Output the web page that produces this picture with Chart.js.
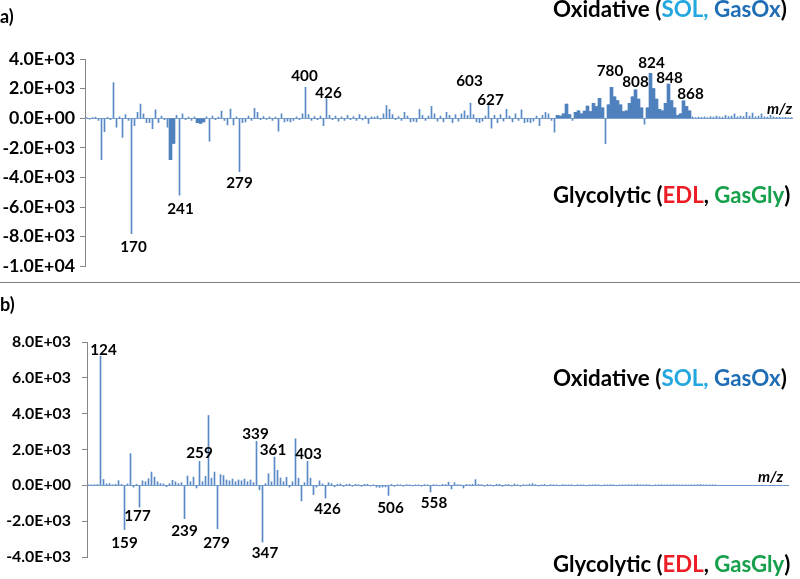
<!DOCTYPE html>
<html><head><meta charset="utf-8">
<script src="https://cdn.jsdelivr.net/npm/chart.js@4.4.1/dist/chart.umd.min.js"></script>
<style>
html,body{margin:0;padding:0;background:#fff;width:800px;height:579px;overflow:hidden}
#wrap{position:relative;width:800px;height:579px;background:#fff}
#ca{position:absolute;left:0;top:0}
#cb{position:absolute;left:0;top:283px}
#sep{position:absolute;left:0;top:282px;width:800px;height:1px;background:#7f7f7f}
</style></head><body>
<div id="wrap">
<canvas id="ca" width="800" height="282"></canvas>
<div id="sep"></div>
<canvas id="cb" width="800" height="296"></canvas>
</div>
<script>
// ---------------- DATA ----------------
// Panel a) : intensity per m/z bar (positive = Oxidative, negative = Glycolytic)
const valuesA = [
  40, -60, 50, 80, -150, -2800, -900, 60, -100, 2400,
  -600, 100, -1300, 250, -150, -7800, -500, 400, 950, 300,
  -300, -300, -700, 560, -300, 150, -100, -600, -2800, -1700,
  200, -5200, 300, -100, 80, -150, 100, -300, -350, -250,
  100, -1550, 150, -100, 80, 490, -150, -450, 620, -450,
  100, -3600, -300, -250, 150, -150, 670, 400, -100, 120,
  -80, 100, -150, 80, -870, 290, -250, -200, -250, -150,
  100, -100, 300, 2080, 250, -150, 120, -100, 150, -500,
  1330, 200, -100, 150, -200, 100, -150, 200, -100, 120,
  -150, 250, -120, 150, -350, 100, 80, 150, -60, 300,
  850, 600, 250, -100, 120, -150, 400, 150, -250, -200,
  -250, 600, 200, -150, 150, 800, 300, -200, 150, -250,
  400, 200, -300, 250, -200, 300, 500, 200, 1030, 250,
  -250, -300, -200, 150, 980, -670, 200, -300, 250, -200,
  600, 150, -250, 300, -150, 560, -300, -250, -300, -200,
  150, -500, 200, 400, 300, -150, -940, 200, 150, 300,
  960, 250, -150, 400, 500, 300, 480, 820, 450, 1000,
  780, 1340, 700, -1720, 900, 2080, 1440, 1200, 900, 450,
  500, 1000, 1450, 1920, 1300, 700, -400, 700, 3040, 2000,
  1300, 600, 500, 1000, 2300, 1200, 700, 200, 300, 1180,
  800, 500, 100, 50, 80, 60, 100, 50, 120, 80,
  150, 100, 80, 200, 120, 150, 300, 100, 150, 120,
  400, 150, 350, 100, 150, 300, 100, 80, 200, 100,
  60, 80, 50, 60, 40, 50
];
const peakMzA  = ['170','241','279','400','426','603','627','780','808','824','848','868'];
const peakIdxA = [15, 31, 51, 73, 80, 128, 134, 175, 183, 188, 194, 199];
const yTicksA  = [-10000, -8000, -6000, -4000, -2000, 0, 2000, 4000];

// Panel b)
const valuesB = [
  30, 20, 40, 50, 7210, 330, 80, 100, 30, 60,
  260, 50, -2470, 80, 1770, -100, 60, -1210, 250, 200,
  370, 740, 460, 200, 100, 80, -80, 100, 280, 200,
  100, 150, -1860, 520, 200, 460, -150, 1340, 200, 500,
  3900, 400, 740, -2420, 600, 550, 300, 250, 350, 200,
  300, 250, 350, 200, 300, 150, 2460, -250, -3160, 100,
  650, 200, 1580, 840, 410, 200, 450, -100, 200, 2600,
  400, -870, 150, 1340, 400, -520, -100, 250, 80, -710,
  150, 100, -80, 60, 80, -60, 50, 70, -50, 60,
  40, -60, 50, 60, -40, 30, -100, -120, -100, -80,
  -560, 50, -60, 40, 30, -50, 40, 30, -40, 30,
  20, -50, 40, 30, -370, 40, 30, -30, 50, 40,
  180, -200, 150, 40, 30, -150, 50, 40, 60, 320,
  60, 40, -50, 50, 30, -40, 60, 50, -60, 40,
  50, -40, 70, 30, -50, 40, 30, 50, 100, 40,
  -40, 30, 50, -30, 40, 30, 20, -30, 40, 30,
  20, 40, -20, 30, 20, 30, -30, 20, 30, 40,
  20, -20, 30, 20, 40, 30, -20, 20, 30, 20,
  40, 30, 20, 50, 30, 20, 40, 30, -20, 20,
  30, 40, 20, 30, 20, 40, 30, 20, 30, 20,
  20, 30, 20, 40, 50, 30, 20, 10, 10, 10,
  0, 0, 0, 0, 0, 0, 0, 0, 0, 0,
  0, 0, 0, 0, 0, 0, 0, 0, 0, 0,
  0, 0, 0, 0
];
const peakMzB  = ['124','159','177','239','259','279','339','347','361','403','426','506','558'];
const peakIdxB = [4, 12, 17, 32, 37, 43, 56, 58, 62, 73, 79, 100, 114];
const yTicksB  = [-4000, -2000, 0, 2000, 4000, 6000, 8000];

// category labels: the m/z of annotated peaks, blank for the others
const categoriesA = valuesA.map((v, i) => { const k = peakIdxA.indexOf(i); return k >= 0 ? peakMzA[k] : ''; });
const categoriesB = valuesB.map((v, i) => { const k = peakIdxB.indexOf(i); return k >= 0 ? peakMzB[k] : ''; });

// ---------------- STYLE ----------------
const FONT = 'Lato, "Open Sans", "DejaVu Sans", sans-serif';
const BAR = '#4f81bd';
const BAR_THIN = '#5a8ac5';
const OX_TITLE = [['Oxidative (', '#000'], ['SOL,', '#22a7e0'], [' GasOx', '#1f6db5'], [')', '#000']];
const GLY_TITLE = [['Glycolytic (', '#000'], ['EDL', '#ee1c25'], [', ', '#000'], ['GasGly', '#17a04b'], [')', '#000']];

const mctx = document.createElement('canvas').getContext('2d');
function fitSize(text, targetW, style) {
  mctx.font = (style || 'bold') + ' 20px ' + FONT;
  return 20 * targetW / mctx.measureText(text).width;
}

function fmtSci(v) {
  if (v === 0) return '0.0E+00';
  const s = v < 0 ? '-' : '';
  const a = Math.abs(v);
  const e = Math.floor(Math.log10(a) + 1e-9);
  const m = a / Math.pow(10, e);
  return s + m.toFixed(1) + 'E+' + String(e).padStart(2, '0');
}

function drawRich(ctx, segs, x, y, targetW) {
  const full = segs.map(s => s[0]).join('');
  const size = fitSize(full, targetW);
  ctx.font = 'bold ' + size.toFixed(2) + 'px ' + FONT;
  ctx.textAlign = 'left';
  ctx.textBaseline = 'alphabetic';
  let cx = x;
  segs.forEach(s => { ctx.fillStyle = s[1]; ctx.fillText(s[0], cx, y); cx += ctx.measureText(s[0]).width; });
}

function inRanges(i, v, ranges) {
  return ranges.some(r => i >= r[0] && i <= r[1] && Math.sign(v) === r[2]);
}

const labelSize = fitSize('170', 26.5);
const capOff = labelSize * 0.36;

function build(canvasId, p) {
  const fillData = p.values.map((v, i) => inRanges(i, v, p.fillRanges) ? v : null);
  const overlay = {
    id: 'overlay' + canvasId,
    beforeDatasetsDraw(chart) {
      const ctx = chart.ctx, a = chart.chartArea, ys = chart.scales.y;
      const y0 = Math.round(ys.getPixelForValue(0)) + 0.5;
      ctx.save();
      ctx.strokeStyle = '#7aa0cf';
      ctx.lineWidth = 1;
      ctx.beginPath(); ctx.moveTo(a.left, y0); ctx.lineTo(a.right, y0); ctx.stroke();
      ctx.restore();
    },
    afterDraw(chart) {
      const ctx = chart.ctx, xs = chart.scales.x, ys = chart.scales.y;
      ctx.save();
      ctx.fillStyle = '#000';
      ctx.font = 'bold ' + labelSize.toFixed(2) + 'px ' + FONT;
      ctx.textAlign = 'center';
      ctx.textBaseline = 'alphabetic';
      p.peakIdx.forEach((idx, k) => {
        const x = xs.getPixelForValue(idx);
        const y = ys.getPixelForValue(p.values[idx]);
        ctx.fillText(chart.data.labels[idx], x + p.peakOff[k][0], y + p.peakOff[k][1] + capOff);
      });
      ctx.textAlign = 'left';
      ctx.font = 'bold 18px ' + FONT;
      ctx.fillText(p.letter, p.letterPos[0], p.letterPos[1]);
      ctx.font = 'italic bold ' + fitSize('m/z', 25, 'italic bold').toFixed(2) + 'px ' + FONT;
      ctx.fillText('m/z', p.mzPos[0], p.mzPos[1]);
      drawRich(ctx, OX_TITLE, p.oxPos[0], p.oxPos[1], 234);
      drawRich(ctx, GLY_TITLE, p.glyPos[0], p.glyPos[1], 237);
      ctx.restore();
    }
  };
  return new Chart(document.getElementById(canvasId), {
    type: 'bar',
    data: {
      labels: p.categories,
      datasets: [
        { data: fillData, backgroundColor: BAR, barPercentage: 1, categoryPercentage: 1, grouped: false, borderWidth: 0 },
        { data: p.values, backgroundColor: BAR_THIN, barThickness: 1, grouped: false, borderWidth: 0 }
      ]
    },
    options: {
      responsive: false, animation: false, devicePixelRatio: 1, events: [],
      layout: { padding: { top: p.pad[0], right: p.pad[1], bottom: p.pad[2], left: 0 } },
      plugins: { legend: { display: false }, tooltip: { enabled: false } },
      scales: {
        x: { display: false, offset: true, grid: { display: false } },
        y: {
          min: p.yTicks[0], max: p.yTicks[p.yTicks.length - 1],
          afterFit(s) { s.width = p.axisWidth; },
          afterBuildTicks(s) { s.ticks = p.yTicks.map(v => ({ value: v })); },
          ticks: { callback: v => fmtSci(v), color: '#000', autoSkip: false,
                   font: { family: FONT, size: p.tickSize, weight: 'bold' }, padding: p.tickPad },
          grid: { drawOnChartArea: false, drawTicks: true, tickLength: 5, color: '#868686' },
          border: { display: true, color: '#868686', width: 1 }
        }
      }
    },
    plugins: [overlay]
  });
}

build('ca', {
  values: valuesA, categories: categoriesA, yTicks: yTicksA,
  peakIdx: peakIdxA,
  peakOff: [[2,13],[1,13],[0,11],[-1,-12],[2,-6.5],[-1,-22],[2,-4.5],[-1.5,-17],[0,-8],[1,-11],[1,-7],[7,-7]],
  fillRanges: [[28,29,-1],[37,39,-1],[157,201,1]],
  axisWidth: 85, pad: [59, 7, 14], tickSize: fitSize('4.0E+03', 66), tickPad: 5,
  letter: 'a)', letterPos: [0, 22.5], mzPos: [767, 114],
  oxPos: [553, 17], glyPos: [553, 203]
});

build('cb', {
  values: valuesB, categories: categoriesB, yTicks: yTicksB,
  peakIdx: peakIdxB,
  peakOff: [[3,-7],[0,13],[-2,9],[0,12],[0,-9],[-1,14],[-1,-8],[2.5,11],[-1.5,-8],[1,-8],[2,10],[2,12],[3.5,11]],
  fillRanges: [],
  axisWidth: 87, pad: [59, 11, 22], tickSize: fitSize('8.0E+03', 59), tickPad: 11,
  letter: 'b)', letterPos: [0, 28], mzPos: [758, 199],
  oxPos: [553, 102.5], glyPos: [553, 289]
});
</script>
</body></html>
